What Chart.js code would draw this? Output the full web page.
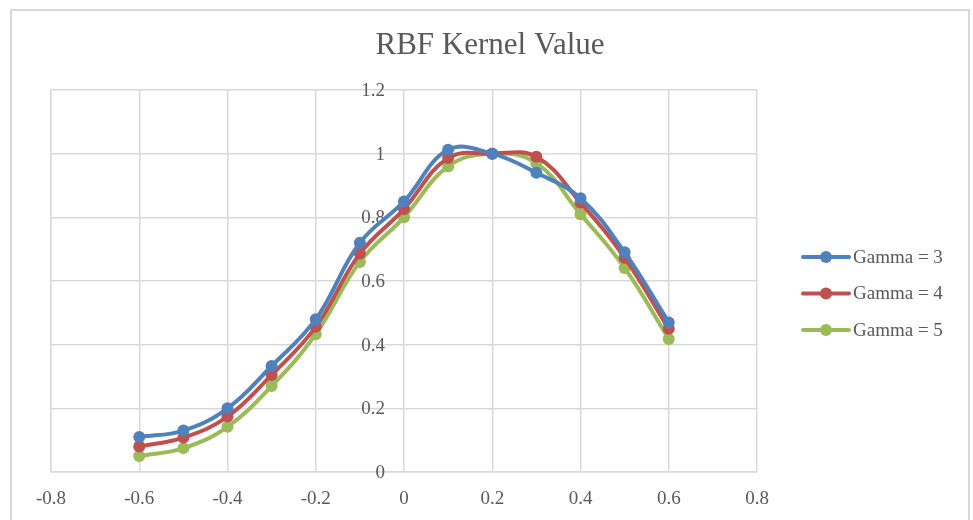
<!DOCTYPE html>
<html>
<head>
<meta charset="utf-8">
<script src="https://cdn.jsdelivr.net/npm/chart.js@4/dist/chart.umd.min.js"></script>
<style>
  html, body { margin: 0; padding: 0; background: #fff; overflow: hidden; }
  #wrap { position: relative; width: 973px; height: 520px; overflow: hidden; }
  #frame { position: absolute; left: 10px; top: 9px; width: 956px; height: 600px;
           border: 2px solid #d9d9d9; box-sizing: content-box; }
  #rbf { position: absolute; left: 0; top: 0; }
</style>
</head>
<body>
<div id="wrap">
  <div id="frame"></div>
  <canvas id="rbf" width="973" height="520"></canvas>
</div>
<script>
// values
const xValues = [-0.6, -0.5, -0.4, -0.3, -0.2, -0.1, 0, 0.1, 0.2, 0.3, 0.4, 0.5, 0.6];
const gamma3 = [0.11, 0.13, 0.20, 0.333, 0.48, 0.72, 0.85, 1.012, 1.0, 0.94, 0.86, 0.69, 0.47];
const gamma4 = [0.08, 0.108, 0.174, 0.305, 0.456, 0.686, 0.826, 0.986, 1.0, 0.99, 0.846, 0.673, 0.45];
const gamma5 = [0.05, 0.075, 0.142, 0.27, 0.433, 0.66, 0.80, 0.96, 1.0, 0.97, 0.81, 0.641, 0.418];
const seriesNames = ['Gamma = 3', 'Gamma = 4', 'Gamma = 5'];
const seriesColors = ['#4F81BD', '#C0504D', '#9BBB59'];
const xTicks = [-0.8, -0.6, -0.4, -0.2, 0, 0.2, 0.4, 0.6, 0.8];
const yTicks = [0, 0.2, 0.4, 0.6, 0.8, 1, 1.2];
const chartTitle = 'RBF Kernel Value';

const FONT = '"Liberation Serif", "Times New Roman", serif';
const TEXT = '#595959';
const GRID = '#d9d9d9';

function toPoints(ys) {
    return xValues.map(function(x, i) { return { x: x, y: ys[i] }; });
}

function fmt(v) {
    const r = Math.round(v * 10) / 10;
    return String(r);
}

// Title + y labels sitting on the x = 0 line (drawn under the series)
const crossLabels = {
    id: 'crossLabels',
    beforeDatasetsDraw(chart) {
        const ctx = chart.ctx;
        const xs = chart.scales.x;
        const ys = chart.scales.y;
        const x0 = xs.getPixelForValue(0);
        ctx.save();
        ctx.fillStyle = TEXT;
        ctx.font = '31px ' + FONT;
        ctx.textAlign = 'center';
        ctx.textBaseline = 'middle';
        ctx.fillText(chartTitle, 490, 46);
        ctx.font = '19px ' + FONT;
        ctx.textAlign = 'right';
        yTicks.forEach(function(v) {
            ctx.fillText(fmt(v), x0 - 19, ys.getPixelForValue(v) + 1);
        });
        ctx.restore();
    }
};

// Legend drawn as line + marker, like the office style
const sideLegend = {
    id: 'sideLegend',
    afterDraw(chart) {
        const ctx = chart.ctx;
        const area = chart.chartArea;
        const x0 = area.right + 46;
        const y0 = 257;
        const gap = 36.5;
        ctx.save();
        chart.data.datasets.forEach(function(ds, i) {
            const y = y0 + i * gap;
            ctx.strokeStyle = ds.borderColor;
            ctx.lineWidth = 4;
            ctx.lineCap = 'round';
            ctx.beginPath();
            ctx.moveTo(x0, y);
            ctx.lineTo(x0 + 46, y);
            ctx.stroke();
            ctx.fillStyle = ds.borderColor;
            ctx.beginPath();
            ctx.arc(x0 + 23, y, 6, 0, Math.PI * 2);
            ctx.fill();
            ctx.fillStyle = TEXT;
            ctx.font = '19px ' + FONT;
            ctx.textBaseline = 'middle';
            ctx.textAlign = 'left';
            ctx.fillText(ds.label, x0 + 50, y + 1);
        });
        ctx.restore();
    }
};

const datasets = [gamma3, gamma4, gamma5].map(function(ys, i) {
    return {
        label: seriesNames[i],
        data: toPoints(ys),
        showLine: true,
        borderColor: seriesColors[i],
        backgroundColor: seriesColors[i],
        borderWidth: 4,
        pointRadius: 6,
        pointBorderWidth: 0,
        pointHoverRadius: 6,
        tension: 0.4
    };
});

new Chart(document.getElementById('rbf'), {
    type: 'scatter',
    data: { datasets: datasets },
    options: {
        responsive: false,
        animation: false,
        layout: { padding: { left: 51, right: 216, top: 90, bottom: 0 } },
        plugins: {
            legend: { display: false },
            tooltip: { enabled: false },
            title: { display: false }
        },
        scales: {
            x: {
                type: 'linear',
                min: xTicks[0],
                max: xTicks[xTicks.length - 1],
                afterBuildTicks: function(scale) {
                    scale.ticks = xTicks.map(function(v) { return { value: v }; });
                },
                afterFit: function(scale) { scale.height = 48; },
                grid: { color: GRID, lineWidth: 1.5, drawTicks: false },
                border: { color: GRID, width: 1.5 },
                ticks: {
                    color: TEXT,
                    padding: 16,
                    maxRotation: 0,
                    font: { family: FONT, size: 19 },
                    callback: function(v) { return fmt(v); }
                }
            },
            y: {
                type: 'linear',
                position: 'left',
                min: yTicks[0],
                max: yTicks[yTicks.length - 1],
                afterBuildTicks: function(scale) {
                    scale.ticks = yTicks.map(function(v) { return { value: v }; });
                },
                afterFit: function(scale) { scale.width = 0; },
                grid: { color: GRID, lineWidth: 1.5, drawTicks: false },
                border: { color: GRID, width: 1.5 },
                ticks: { display: false }
            }
        }
    },
    plugins: [crossLabels, sideLegend]
});
</script>
</body>
</html>
